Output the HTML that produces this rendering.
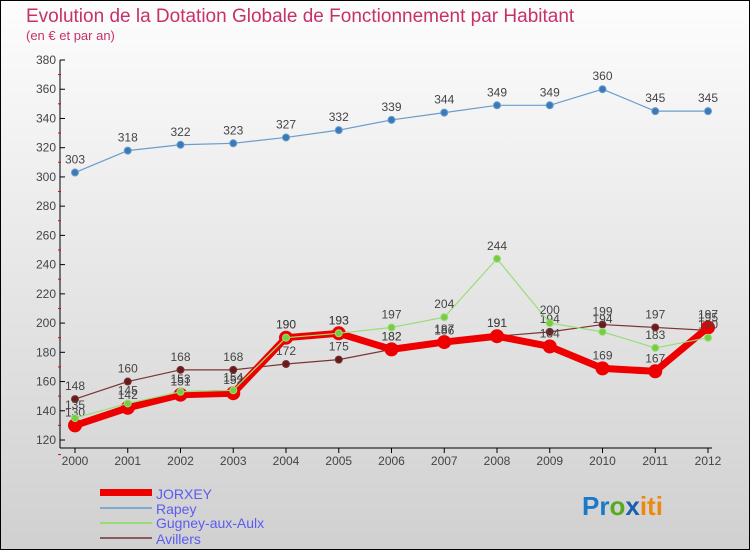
<!DOCTYPE html>
<html><head><meta charset="utf-8"><style>
html,body{margin:0;padding:0}
body{width:750px;height:550px;overflow:hidden;font-family:"Liberation Sans",sans-serif}
</style></head><body>
<svg id="chart" width="750" height="550" xmlns="http://www.w3.org/2000/svg" font-family="Liberation Sans, sans-serif">
<defs><linearGradient id="bg" x1="0" y1="0" x2="0" y2="1"><stop offset="0" stop-color="#fdfdfd"/><stop offset="1" stop-color="#d0d0d0"/></linearGradient></defs>
<rect x="0" y="0" width="750" height="550" fill="url(#bg)" stroke="#000" stroke-width="2"/>
<text x="26" y="22" font-size="19" fill="#c8306a">Evolution de la Dotation Globale de Fonctionnement par Habitant</text>
<text x="26" y="40" font-size="13" fill="#c8306a">(en € et par an)</text>
<g id="axes"></g>
<g id="series"></g>
<g>
<rect x="100" y="489" width="52" height="7" fill="#ee0000"/>
<text x="156" y="499" font-size="14" fill="#5b5bf0">JORXEY</text>
<line x1="100" y1="508" x2="152" y2="508" stroke="#7faad0" stroke-width="2"/>
<text x="156" y="514" font-size="14" fill="#5b5bf0">Rapey</text>
<line x1="100" y1="523" x2="152" y2="523" stroke="#99dd77" stroke-width="2"/>
<text x="156" y="528" font-size="14" fill="#5b5bf0">Gugney-aux-Aulx</text>
<line x1="100" y1="538" x2="152" y2="538" stroke="#8a5a5a" stroke-width="2"/>
<text x="156" y="544" font-size="14" fill="#5b5bf0">Avillers</text>
</g>
<text x="582" y="515" font-size="26" font-weight="bold"><tspan fill="#1a7ac8">Pr</tspan><tspan fill="#55aa22">o</tspan><tspan fill="#1a5fb0">x</tspan><tspan fill="#ee8811">iti</tspan></text>
</svg>
<script>
const years=["2000","2001","2002","2003","2004","2005","2006","2007","2008","2009","2010","2011","2012"];
const yTicks=[120,140,160,180,200,220,240,260,280,300,320,340,360,380];
const jorxey=[130,142,151,152,190,193,182,187,191,184,169,167,197];
const rapey=[303,318,322,323,327,332,339,344,349,349,360,345,345];
const gugney=[135,145,153,154,190,193,197,204,244,200,194,183,190];
const avillers=[148,160,168,168,172,175,182,186,191,194,199,197,195];
const NS="http://www.w3.org/2000/svg";
function xS(i){return 75+i*(708-75)/(years.length-1);}
function yS(v){return 440-(v-120)*(380/260);}
function mk(tag,attrs,parent){const e=document.createElementNS(NS,tag);for(const k in attrs)e.setAttribute(k,attrs[k]);parent.appendChild(e);return e;}
const axes=document.getElementById('axes');
const ax=mk('line',{x1:60,y1:yS(380),x2:60,y2:448,stroke:'#000','stroke-width':1},axes);


const bx=mk('line',{x1:60,y1:448,x2:712,y2:448,stroke:'#000','stroke-width':1},axes);


yTicks.forEach(v=>{
  mk('line',{x1:60,y1:yS(v),x2:65,y2:yS(v),stroke:'#000'},axes);
  mk('line',{x1:58,y1:yS(v)+14.6,x2:61,y2:yS(v)+14.6,stroke:'#e00'},axes);
  const t=mk('text',{x:56,y:yS(v)+4,'text-anchor':'end','font-size':12,fill:'#444'},axes);
  t.textContent=v;
  
  
});
years.forEach((y,i)=>{
  mk('line',{x1:xS(i),y1:448,x2:xS(i),y2:453,stroke:'#000'},axes);
  const t=mk('text',{x:xS(i),y:465,'text-anchor':'middle','font-size':12,fill:'#444'},axes);
  t.textContent=y;
  
  
});
const ser=document.getElementById('series');
function draw(name,data,color,w,r,dot,lblDy){
  const g=mk('g',{},ser);
  
  
  const pts=data.map((v,i)=>xS(i)+','+yS(v)).join(' ');
  const pl=mk('polyline',{points:pts,fill:'none',stroke:color,'stroke-width':w,'stroke-linejoin':'round'},g);
  
  
  data.forEach((v,i)=>{
    const c=mk('circle',{cx:xS(i),cy:yS(v),r:r,fill:dot,stroke:color,'stroke-width':1},g);
    
    
    const t=mk('text',{x:xS(i),y:yS(v)-lblDy,'text-anchor':'middle','font-size':12,fill:'#444'},g);
    t.textContent=v;
    
    
  });
}
draw('avillers',avillers,'#7a3434',1.2,3.5,'#6a1a1a',9);
draw('jorxey',jorxey,'#ee0000',7,6.5,'#ee0000',9);
draw('gugney',gugney,'#99dd77',1.2,3.5,'#77cc44',9);
draw('rapey',rapey,'#6a9ccc',1.2,3.5,'#3a7ab8',9);
</script>
</body></html>
